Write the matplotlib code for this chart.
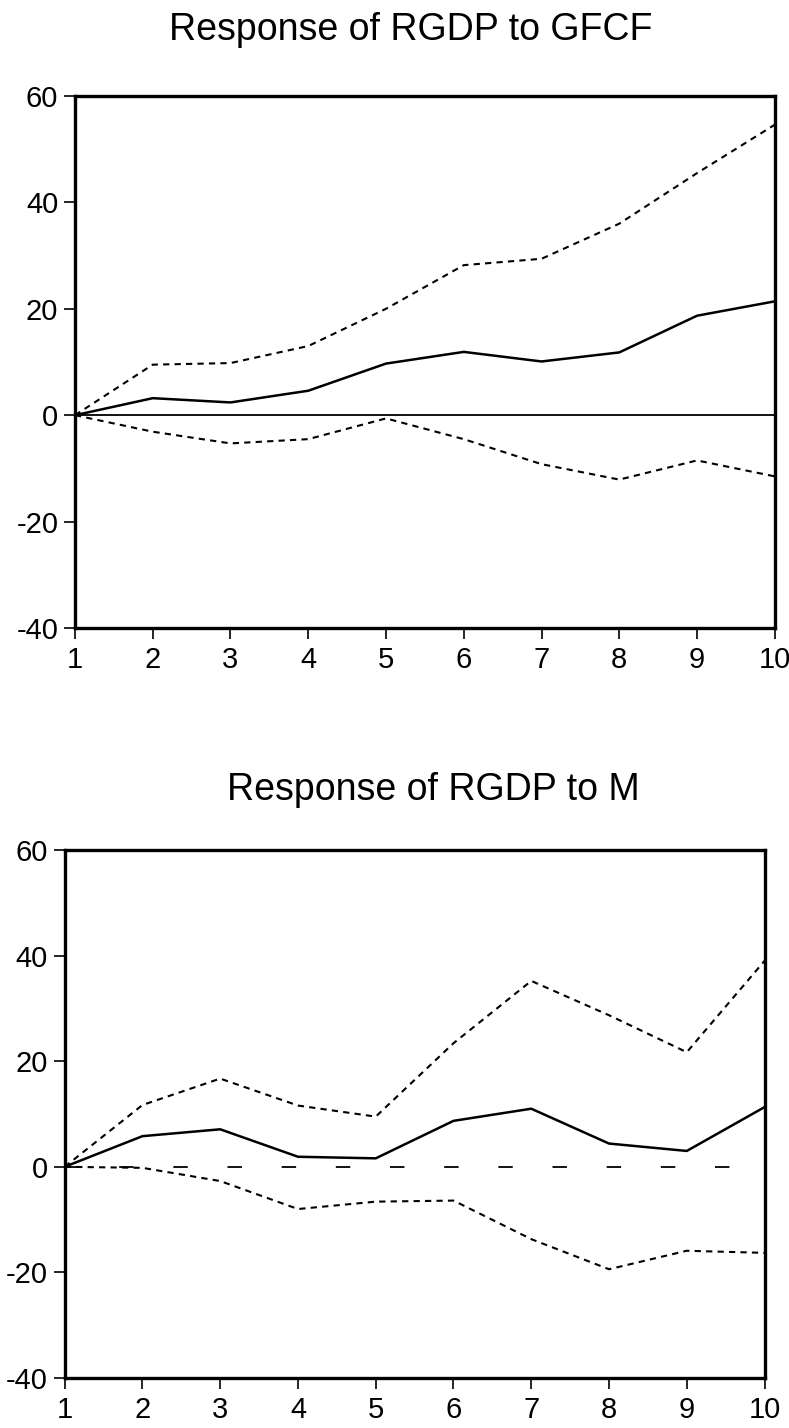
import matplotlib
matplotlib.use("Agg")
import matplotlib.pyplot as plt
import numpy as np

plt.rcParams['font.family'] = ['Liberation Sans', 'DejaVu Sans']
plt.rcParams['axes.unicode_minus'] = False

periods = [1, 2, 3, 4, 5, 6, 7, 8, 9, 10]
y_ticks = [-40, -20, 0, 20, 40, 60]

# Response of RGDP to GFCF
gfcf_resp = [0, 3.2, 2.4, 4.6, 9.7, 11.9, 10.1, 11.8, 18.7, 21.4]
gfcf_upper = [0, 9.5, 9.8, 13.0, 20.0, 28.2, 29.4, 36.0, 45.5, 54.6]
gfcf_lower = [0, -3.1, -5.3, -4.5, -0.6, -4.5, -9.2, -12.1, -8.5, -11.5]

# Response of RGDP to M
m_resp = [0, 5.8, 7.1, 1.9, 1.6, 8.7, 11.0, 4.4, 3.0, 11.3]
m_upper = [0, 11.7, 16.7, 11.6, 9.5, 23.4, 35.2, 28.7, 21.7, 39.0]
m_lower = [0, -0.2, -2.7, -8.0, -6.6, -6.4, -13.7, -19.4, -15.9, -16.3]

panels = [
    ("Response of RGDP to GFCF", gfcf_resp, gfcf_upper, gfcf_lower, '-'),
    ("Response of RGDP to M", m_resp, m_upper, m_lower, (0, (8, 22))),
]
axes_rects = [[0.095, 0.5602, 0.887, 0.3726], [0.082, 0.0350, 0.887, 0.3698]]
title_pos = [(0.52, 0.979), (0.549, 0.447)]

fig = plt.figure(figsize=(7.89, 14.28), dpi=100)

for (title, resp, upper, lower, zero_style), rect, tpos in zip(panels, axes_rects, title_pos):
    ax = fig.add_axes(rect)
    ax.plot(periods, [0] * len(periods), color='black', lw=1.3, linestyle=zero_style)
    ax.plot(periods, upper, color='black', lw=1.5, linestyle=(0, (3, 2.5)))
    ax.plot(periods, lower, color='black', lw=1.5, linestyle=(0, (3, 2.5)))
    ax.plot(periods, resp, color='black', lw=1.8)

    ax.set_xlim(1, 10)
    ax.set_ylim(-40, 60)
    ax.set_xticks(periods)
    ax.set_yticks(y_ticks)
    ax.tick_params(axis='both', direction='out', length=8, width=1.2,
                   labelsize=21, colors='black')
    ax.tick_params(axis='y', pad=4)
    ax.tick_params(axis='x', pad=5)
    for side in ax.spines.values():
        side.set_linewidth(2.4)
        side.set_color('black')

    fig.text(tpos[0], tpos[1], title, fontsize=27, ha='center', va='center')

fig.savefig('out.png', dpi=100, facecolor='white')
